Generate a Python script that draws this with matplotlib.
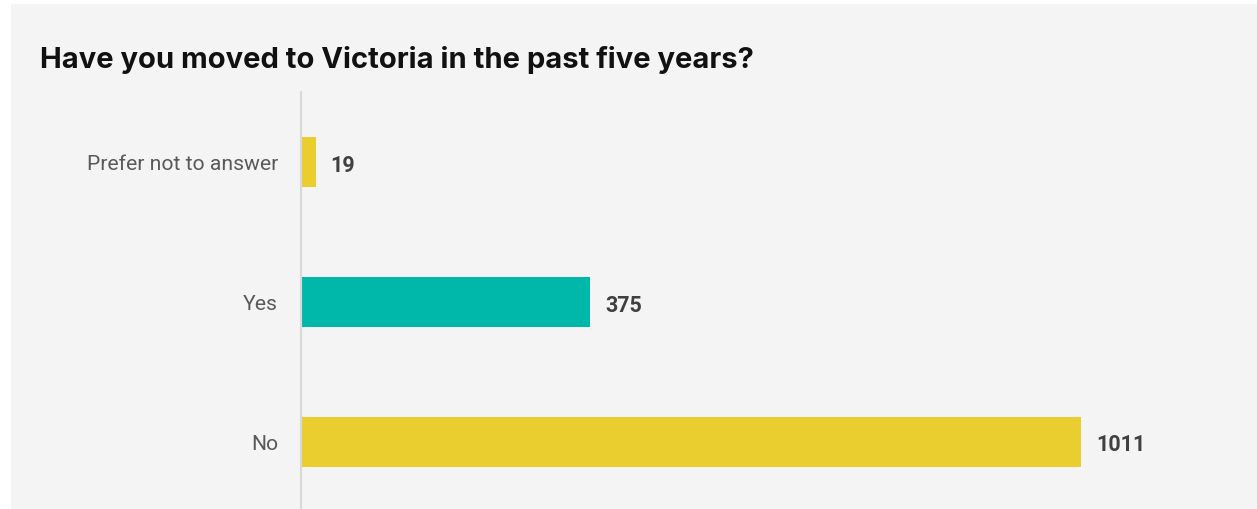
import matplotlib.pyplot as plt
from matplotlib.patches import Rectangle

# survey answers, top to bottom
answers = ["Prefer not to answer", "Yes", "No"]
counts = [19, 375, 1011]
bar_colors = ["#EACD2E", "#00B8AA", "#EACD2E"]

W, H = 1257, 510
fig = plt.figure(figsize=(W / 100, H / 100), dpi=100)
fig.patch.set_facecolor("white")

# light grey card behind everything
fig.patches.append(Rectangle((11 / W, 0), 1 - 11 / W, 1 - 5 / H,
                             transform=fig.transFigure, facecolor="#F4F4F4",
                             edgecolor="none", zorder=-1))

fig.text(40 / W, 1 - 68 / H, "Have you moved to Victoria in the past five years?",
         fontsize=21, fontweight="bold", family="Inter", color="#111111",
         va="baseline", ha="left")

ax = fig.add_axes([301 / W, 0, 1 - 301 / W, 1 - 93 / H])
ax.set_facecolor("none")

px_per_unit = 780 / 1011
ax.set_xlim(0, (W - 301) / px_per_unit)
ax.set_ylim((H - 163) / 140, -0.5)

y = list(range(len(answers)))
ax.barh(y, counts, height=50 / 140, color=bar_colors, zorder=2)

for yi, c in zip(y, counts):
    ax.annotate(str(c), (c, yi), xytext=(15 * 0.72, 0), textcoords="offset points",
                va="center_baseline", ha="left", fontsize=15.5, fontweight="bold",
                family="Roboto", color="#404040")

ax.set_yticks(y)
ax.set_yticklabels(answers, fontsize=15.2, family="Roboto", color="#595959")
ax.tick_params(axis="y", length=0, pad=23 * 0.72)
ax.set_xticks([])

for s in ["top", "right", "bottom"]:
    ax.spines[s].set_visible(False)
ax.spines["left"].set_color("#D9D9D9")
ax.spines["left"].set_linewidth(1.5)

fig.savefig("out.png", dpi=100)
